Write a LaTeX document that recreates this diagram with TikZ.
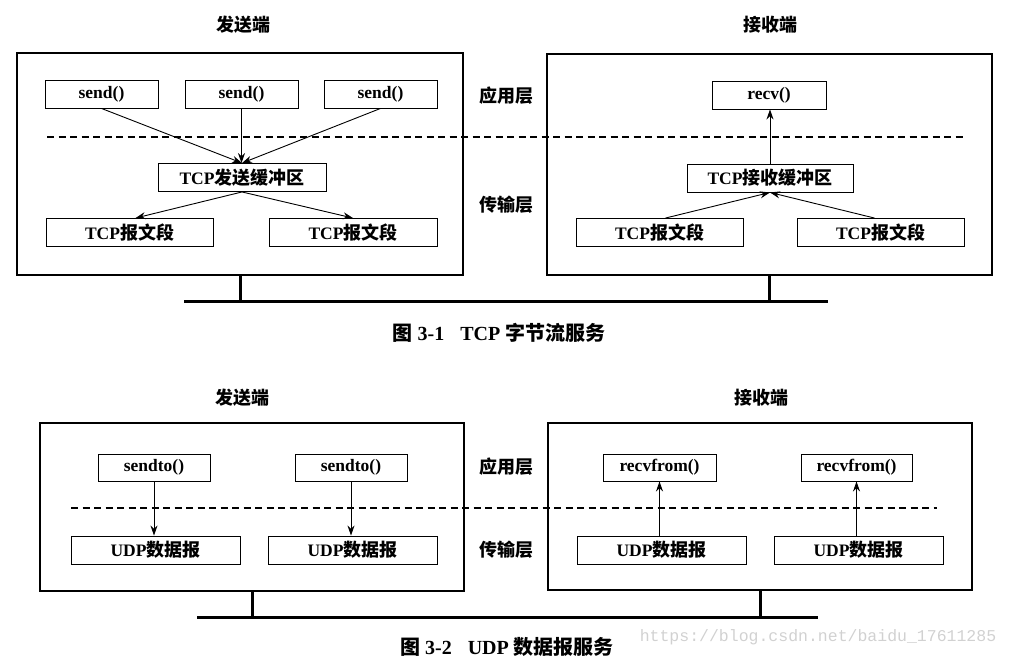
\documentclass[tikz,border=0pt]{standalone}
\usepackage{fontspec}
\setmainfont{Liberation Serif}
\newfontfamily\cjk{Noto Sans CJK SC}
\newfontfamily\wmfont{Liberation Mono}
\newcommand\zh[1]{{\cjk\fontsize{18}{20}\selectfont #1}}
\usetikzlibrary{arrows.meta,shapes}

\begin{document}
\begin{tikzpicture}
            [x=1pt,y=-1pt,line width=0.9pt,
             every edge/.style={draw,-{Stealth[length=10pt,width=7pt]}},
             box/.style={rectangle,draw,inner sep=0pt,minimum height=28pt,
                         font=\bfseries\fontsize{17.5}{20}\selectfont},
             host/.style={rectangle,draw,inner sep=0pt,line width=1.2pt},
             lbl/.style={font=\bfseries},
             figcap/.style={font=\bfseries\fontsize{20}{22}\selectfont},
             bus/.style={-,line width=3pt},
             layer/.style={-,dashed,dash pattern=on 7pt off 4.5pt,line width=1.1pt}]

            \useasboundingbox (0,0) rectangle (1010,657);

            % TCP
            \node (tsend) [host,minimum width=446pt,minimum height=222pt] at (240,164) {};
            \node (trecv) [host,minimum width=445pt,minimum height=221pt] at (769.5,164.5) {};
            \node (tsendt) [lbl] at (243,25) {\zh{发送端}};
            \node (trecvt) [lbl] at (770,25) {\zh{接收端}};
            \node (tapp) [lbl] at (506,96) {\zh{应用层}};
            \node (ttra) [lbl] at (506,205) {\zh{传输层}};

            \node (s1) [box,minimum width=113pt] at (101.5,94) {send()};
            \node (s2) [box,minimum width=113pt] at (241.5,94) {send()};
            \node (s3) [box,minimum width=113pt] at (380.5,94) {send()};
            \node (sbuf) [box,minimum width=168pt] at (242,177.5) {TCP\zh{发送缓冲区}};
            \node (sseg1) [box,minimum width=167pt] at (129.5,232.5) {TCP\zh{报文段}};
            \node (sseg2) [box,minimum width=168pt] at (353,232.5) {TCP\zh{报文段}};

            \node (r) [box,minimum width=114pt] at (769,95) {recv()};
            \node (rbuf) [box,minimum width=166pt] at (770,178) {TCP\zh{接收缓冲区}};
            \node (rseg1) [box,minimum width=167pt] at (659.5,232.5) {TCP\zh{报文段}};
            \node (rseg2) [box,minimum width=167pt] at (880.5,232.5) {TCP\zh{报文段}};

            \path (s1.south) edge node {} (sbuf.north);
            \path (s2.south) edge node {} (s2.south |- sbuf.north);
            \path (s3.south) edge node {} (sbuf.north);
            \path (sbuf.south) edge node {} ([xshift=6pt]sseg1.north);
            \path (sbuf.south) edge node {} (sseg2.north);
            \path ([xshift=6pt]rseg1.north) edge node {} (rbuf.south);
            \path ([xshift=-6pt]rseg2.north) edge node {} (rbuf.south);
            \path (rbuf.north) edge node {} (rbuf.north |- r.south);

            \coordinate (tdl) at (47,137);
            \coordinate (tdr) at (963,137);
            \draw [layer] (tdl) -- (tdr);
            \coordinate (tbl) at (184,301);
            \coordinate (tbr) at (828,301);
            \draw [bus] (tbl) -- (tbr);
            \draw [bus] (tsend.south) -- (tsend.south |- tbl);
            \draw [bus] (trecv.south) -- (trecv.south |- tbl);

            \node (tcap) [figcap] at (499,333) {{\cjk 图} 3-1\hspace{16pt}TCP {\cjk 字节流服务}};

            % UDP
            \node (usend) [host,minimum width=424pt,minimum height=168pt] at (252,507) {};
            \node (urecv) [host,minimum width=424pt,minimum height=167pt] at (760,506.5) {};
            \node (usendt) [lbl] at (242,398) {\zh{发送端}};
            \node (urecvt) [lbl] at (761,398) {\zh{接收端}};
            \node (uapp) [lbl] at (506,467) {\zh{应用层}};
            \node (utra) [lbl] at (506,550) {\zh{传输层}};

            \node (st1) [box,minimum width=112pt,minimum height=27pt] at (154,467.5) {sendto()};
            \node (st2) [box,minimum width=112pt,minimum height=27pt] at (351,467.5) {sendto()};
            \node (sd1) [box,minimum width=169pt] at (155.5,550) {UDP\zh{数据报}};
            \node (sd2) [box,minimum width=169pt] at (352.5,550) {UDP\zh{数据报}};

            \node (rf1) [box,minimum width=113pt,minimum height=27pt] at (659.5,467.5) {recvfrom()};
            \node (rf2) [box,minimum width=111pt,minimum height=27pt] at (856.5,467.5) {recvfrom()};
            \node (rd1) [box,minimum width=169pt] at (661.5,550) {UDP\zh{数据报}};
            \node (rd2) [box,minimum width=169pt] at (858.5,550) {UDP\zh{数据报}};

            \path (st1.south) edge node {} (st1.south |- sd1.north);
            \path (st2.south) edge node {} (st2.south |- sd2.north);
            \path (rf1.south |- rd1.north) edge node {} (rf1.south);
            \path (rf2.south |- rd2.north) edge node {} (rf2.south);

            \coordinate (udl) at (71,508);
            \coordinate (udr) at (937,508);
            \draw [layer] (udl) -- (udr);
            \coordinate (ubl) at (197,617);
            \coordinate (ubr) at (818,617);
            \draw [bus] (ubl) -- (ubr);
            \draw [bus] (usend.south) -- (usend.south |- ubl);
            \draw [bus] (urecv.south) -- (urecv.south |- ubl);

            \node (ucap) [figcap] at (507,647) {{\cjk 图} 3-2\hspace{16pt}UDP {\cjk 数据报服务}};
            \node (wm) [text=black!18] at (818,637) {\wmfont\fontsize{16.5}{18}\selectfont https://blog.csdn.net/baidu\_17611285};
        \end{tikzpicture}
\end{document}
